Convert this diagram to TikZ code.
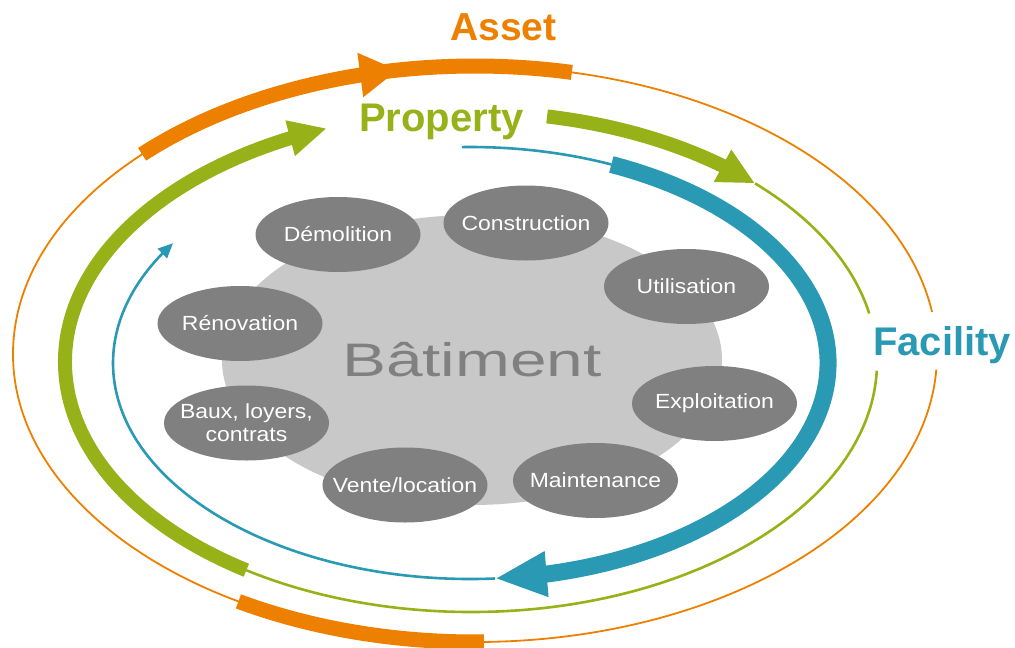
\documentclass[tikz,border=0pt]{standalone}
\usepackage{fontspec}
\setmainfont{Liberation Sans}
\newfontfamily\labfont[FakeStretch=1.12]{Liberation Sans}
\newfontfamily\batfont[FakeStretch=1.4]{Liberation Sans}
\usetikzlibrary{arrows.meta,bending,shapes.geometric}
\definecolor{assetc}{RGB}{238,128,0}
\definecolor{propc}{RGB}{151,178,25}
\definecolor{facc}{RGB}{42,154,180}
\definecolor{stagegray}{RGB}{128,128,128}
\definecolor{batgray}{RGB}{200,200,200}
\begin{document}
\begin{tikzpicture}[x=1pt,y=-1pt,
  stage/.style={ellipse, fill=stagegray, minimum width=165pt, minimum height=75pt,
    inner xsep=-15pt, inner ysep=0pt, text=white, align=center,
    font=\labfont\fontsize{20.5}{23}\selectfont},
  title/.style={anchor=base, font=\bfseries\fontsize{39}{39}\selectfont},
  thinA/.style={draw=assetc, line width=1.8pt},
  thickA/.style={draw=assetc, line width=15pt},
  thinP/.style={draw=propc, line width=2.6pt},
  thickP/.style={draw=propc, line width=14pt},
  thinF/.style={draw=facc, line width=2.6pt},
  thickF/.style={draw=facc, line width=17pt},
]
\useasboundingbox (0,0) rectangle (1015,648);

% centres of the three cycles
\coordinate (OA) at (475,354);
\coordinate (OP) at (471,362);
\coordinate (OF) at (470.5,363);

% building
\node[ellipse, fill=batgray, minimum width=500pt, minimum height=290pt, inner sep=0pt,
  text=stagegray, font=\batfont\fontsize{47}{47}\selectfont] (bat) at (472,360) {Bâtiment};

% stages
\node[stage] (demol) at (338,234.5) {Démolition};
\node[stage] (constr) at (526,223) {Construction};
\node[stage] (util) at (686.5,286.5) {Utilisation};
\node[stage] (renov) at (240,323.5) {Rénovation};
\node[stage] (explo) at (714.5,403.5) {Exploitation};
\node[stage] (baux) at (246.5,423) {Baux, loyers,\\contrats};
\node[stage] (vente) at (405,485) {Vente/location};
\node[stage] (maint) at (595.5,480.5) {Maintenance};

% Asset cycle (orange)
\draw[thinA] (OA) ++(3.1:462 and 288) arc[start angle=3.1, end angle=351.6, x radius=462, y radius=288];
\draw[thickA] (OA) ++(88.9:462 and 288) arc[start angle=88.9, end angle=120.8, x radius=462, y radius=288];
\draw[thickA] (OA) ++(-102:462 and 288) arc[start angle=-102, end angle=-77.9, x radius=462, y radius=288];
\draw[thickA, -{Triangle[length=38pt,width=42pt]}] (OA) ++(-136.1:462 and 288) arc[start angle=-136.1, end angle=-99.6, x radius=462, y radius=288];

% Property cycle (green)
\draw[thinP] (OP) ++(-45.6:406 and 250) arc[start angle=-45.6, end angle=-11.2, x radius=406, y radius=250];
\draw[thinP] (OP) ++(2:406 and 250) arc[start angle=2, end angle=123.6, x radius=406, y radius=250];
\draw[thickP, -{Triangle[length=37pt,width=34pt]}] (OP) ++(-79.2:406 and 250) arc[start angle=-79.2, end angle=-45.6, x radius=406, y radius=250];
\draw[thickP, -{Triangle[length=38pt,width=34pt]}] (OP) ++(123.6:406 and 250) arc[start angle=123.6, end angle=249.2, x radius=406, y radius=250];

% Facility cycle (blue)
\draw[thinF] (OF) ++(-91.4:357.5 and 216) arc[start angle=-91.4, end angle=-66.8, x radius=357.5, y radius=216];
\draw[thinF, -{Triangle[length=15pt,width=13pt]}] (OF) ++(86.1:357.5 and 216) arc[start angle=86.1, end angle=213.7, x radius=357.5, y radius=216];
\draw[thickF, -{Triangle[length=52pt,width=42pt]}] (OF) ++(-66.8:357.5 and 216) arc[start angle=-66.8, end angle=86.1, x radius=357.5, y radius=216];

% titles
\node[title, text=assetc] (asset) at (503.5,40) {Asset};
\node[title, text=propc, font=\bfseries\fontsize{40}{40}\selectfont] (prop) at (441.5,131) {Property};
\node[title, text=facc, font=\bfseries\fontsize{40}{40}\selectfont] (fac) at (942,355) {Facility};
\end{tikzpicture}
\end{document}
